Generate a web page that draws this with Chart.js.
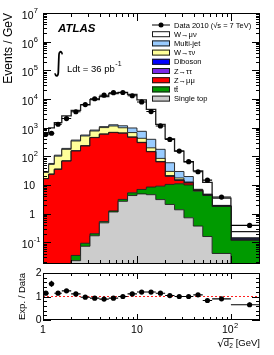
<!DOCTYPE html>
<html><head><meta charset="utf-8">
<script src="https://cdn.jsdelivr.net/npm/chart.js@4.4.1/dist/chart.umd.min.js"></script>
<style>
html,body{margin:0;padding:0;background:#fff;}
body{width:274px;height:355px;position:relative;overflow:hidden;}
canvas{position:absolute;left:0;}
</style></head><body>
<canvas id="main" width="274" height="268" style="top:0"></canvas>
<canvas id="ratio" width="274" height="87" style="top:268px"></canvas>
<script>
// ---------- data ----------
const binEdges = [1,1.15,1.32,1.585,1.995,2.512,3.162,3.981,5.012,6.31,7.943,10,12.59,15.85,19.95,25.12,31.62,39.81,50.12,63.1,100,250];
const dataValues = [590,640,1320,2080,3600,6400,10200,13600,16600,16900,13000,7900,3660,1150,390,153,65,29,14.8,3.8,0.39];
const ratioValues = [1.14,1.54,1.14,1.24,1.11,0.97,0.93,0.89,0.93,1.0,1.11,1.19,1.19,1.14,1.04,1.0,1.0,1.07,0.83,0.9,0.65];
const ratioErrors = [0.03,0.13,0.03,0.03,0.02,0.02,0.01,0.01,0.01,0.01,0.01,0.01,0.02,0.02,0.03,0.04,0.05,0.06,0.07,0.06,0.09];
const singleTop = [0.002,0.004,0.006,0.01,0.023,0.073,0.17,0.48,1.15,2.7,4.3,4.9,4.6,3.1,2.1,1.37,0.72,0.37,0.16,0.041,0.008];
const ttbar = [0.002,0.003,0.005,0.008,0.012,0.02,0.03,0.05,0.1,0.45,1.05,2.1,3.9,6.0,8.4,9.7,9.35,5.75,4.15,1.75,0.11];
const zmumu = [16.6,23.5,35,68,153,229,450,588,674,634,456,294,136,55,9.5,3.4,1.7,0.3,0.12,0.03,0.003];
const ztautau = [0.2,0.4,0.7,1.2,2.5,4,6,8,9,9,7,5,3,1.5,0.7,0.3,0.15,0.08,0.05,0.02,0.002];
const diboson = [0.05,0.08,0.12,0.2,0.3,0.45,0.6,0.75,0.9,1.0,1.0,0.95,0.85,0.7,0.55,0.4,0.3,0.2,0.12,0.05,0.01];
const wtaunu = [10.7,28.5,66,106,187,280,309,411,461,346,206,119,50,18.6,8.6,2.5,0.55,0.1,0.1,0.03,0.003];
const multijet = [2,4,8,14,27,41,61,80,116,171,302,322,195,91,30,12,7,0.3,0.1,0.03,0.01];
const wmunu = [643,930,1395,2390,3630,5656,8662,11012,14178,15736,13453,8652,3962,1135,346,123,45,24,7.6,1.54,0.09];

const yTickValues = [1e7,1e6,1e5,1e4,1e3,1e2,10,1,0.1];
const yTickLabels = ['10^7','10^6','10^5','10^4','10^3','10^2','10','1','10^-1'];
const xTickValues = [1,10,100];
const xTickLabels = ['1','10','10^2'];
const ratioTickValues = [0,1,2];
const ratioTickLabels = ['0','1','2'];

const legendLabels = ['Data 2010 (\u221As = 7 TeV)','W\u2192\u03BC\u03BD','Multi-jet','W\u2192\u03C4\u03BD','Diboson','Z\u2192\u03C4\u03C4','Z\u2192\u03BC\u03BC','tt\u0304','Single top'];

// ---------- styling ----------
const FONT = '"Liberation Sans", Arial, Helvetica, sans-serif';
const layers = [
  {name:'Single top', vals:singleTop, color:'#cccccc'},
  {name:'tt\u0304', vals:ttbar, color:'#009a00'},
  {name:'Z\u2192\u03BC\u03BC', vals:zmumu, color:'#ff0000'},
  {name:'Z\u2192\u03C4\u03C4', vals:ztautau, color:'#7a28e6'},
  {name:'Diboson', vals:diboson, color:'#0000ff'},
  {name:'W\u2192\u03C4\u03BD', vals:wtaunu, color:'#ffff99'},
  {name:'Multi-jet', vals:multijet, color:'#99ccff'},
  {name:'W\u2192\u03BC\u03BD', vals:wmunu, color:'#ffffff'}
];
const legendColors = {'W\u2192\u03BC\u03BD':'#ffffff','Multi-jet':'#99ccff','W\u2192\u03C4\u03BD':'#ffff99','Diboson':'#0000ff','Z\u2192\u03C4\u03C4':'#7a28e6','Z\u2192\u03BC\u03BC':'#ff0000','tt\u0304':'#009a00','Single top':'#cccccc'};

const nBins = dataValues.length;
const centers = [];
for (let i=0;i<nBins;i++) centers.push(Math.sqrt(binEdges[i]*binEdges[i+1]));

function stepPoints(vals){
  const pts=[];
  for(let i=0;i<vals.length;i++) pts.push({x:binEdges[i],y:vals[i]});
  pts.push({x:binEdges[vals.length],y:vals[vals.length-1]});
  return pts;
}

const stackDatasets = [];
let run = new Array(nBins).fill(0);
layers.forEach((L,i)=>{
  run = run.map((r,k)=>r+L.vals[k]);
  stackDatasets.push({
    type:'line', label:L.name, data:stepPoints(run.slice()), stepped:'before',
    backgroundColor:L.color, borderColor:'#1a1a1a', borderWidth: i===layers.length-1?1.3:0.9,
    fill: i===0?'start':'-1', pointRadius:0, tension:0, order:1
  });
});

function drawPow(ctx, label, x, y, baseSize, expSize, align, baseDy, expDy){
  const parts = label.split('^');
  const base = parts[0], exp = parts[1];
  ctx.font = baseSize+'px '+FONT;
  const bw = ctx.measureText(base).width;
  let ew = 0;
  if (exp){ ctx.font = expSize+'px '+FONT; ew = ctx.measureText(exp).width; }
  let bx = align==='right' ? x - bw : x - (bw+ew)/2;
  ctx.textAlign='left'; ctx.textBaseline='middle'; ctx.fillStyle='#000';
  ctx.font = baseSize+'px '+FONT;
  ctx.fillText(base, bx, y + baseDy);
  if (exp){ ctx.font = expSize+'px '+FONT; ctx.fillText(exp, bx+bw+0.3, y + expDy); }
}

function tickLines(ctx, ca, xs, ys, xMaj, xMin, yMaj, yMin, xML, xmL, yML, ymL){
  ctx.save();
  ctx.strokeStyle='#000'; ctx.lineWidth=1;
  ctx.beginPath();
  const X = v=>Math.round(xs.getPixelForValue(v))+0.5;
  const Y = v=>Math.round(ys.getPixelForValue(v))+0.5;
  const addX=(v,len)=>{const p=X(v); if(p<ca.left||p>ca.right) return; ctx.moveTo(p,ca.bottom); ctx.lineTo(p,ca.bottom-len); ctx.moveTo(p,ca.top); ctx.lineTo(p,ca.top+len);};
  const addY=(v,len)=>{const p=Y(v); if(p<ca.top-0.5||p>ca.bottom+0.5) return; ctx.moveTo(ca.left,p); ctx.lineTo(ca.left+len,p); ctx.moveTo(ca.right,p); ctx.lineTo(ca.right-len,p);};
  xMaj.forEach(v=>addX(v,xML)); xMin.forEach(v=>addX(v,xmL));
  yMaj.forEach(v=>addY(v,yML)); yMin.forEach(v=>addY(v,ymL));
  ctx.stroke();
  ctx.strokeRect(ca.left+0.5, ca.top+0.5, ca.right-ca.left-1, ca.bottom-ca.top-1);
  ctx.restore();
}

const xMinor = [];
[1,10,100].forEach(d=>{for(let k=2;k<=9;k++) xMinor.push(k*d);});
const yMinorLog = [];
for (let e=-2;e<=6;e++) for(let k=2;k<=9;k++) yMinorLog.push(k*Math.pow(10,e));
const ratioMinor = [0.2,0.4,0.6,0.8,1.2,1.4,1.6,1.8];

const rootPlugin = {
  id:'rootStyle',
  afterDatasetsDraw(chart, args, opts){
    const ctx=chart.ctx, xs=chart.scales.x, ys=chart.scales.y, ca=chart.chartArea;
    const vals = opts.kind==='main' ? dataValues : ratioValues;
    ctx.save();
    ctx.beginPath(); ctx.rect(ca.left,ca.top,ca.right-ca.left,ca.bottom-ca.top); ctx.clip();
    ctx.strokeStyle='#000'; ctx.lineWidth=1.1;
    ctx.beginPath();
    for(let i=0;i<vals.length;i++){
      const x0=xs.getPixelForValue(binEdges[i]), x1=xs.getPixelForValue(binEdges[i+1]);
      const xc=xs.getPixelForValue(centers[i]);
      const y=ys.getPixelForValue(vals[i]);
      ctx.moveTo(x0,y); ctx.lineTo(x1,y);
      if(opts.kind==='ratio'){
        ctx.moveTo(xc,ys.getPixelForValue(vals[i]-ratioErrors[i]));
        ctx.lineTo(xc,ys.getPixelForValue(vals[i]+ratioErrors[i]));
      }
    }
    ctx.stroke();
    ctx.restore();
  },
  afterDraw(chart, args, opts){
    const ctx=chart.ctx, xs=chart.scales.x, ys=chart.scales.y, ca=chart.chartArea;
    ctx.save();
    if(opts.kind==='main'){
      tickLines(ctx,ca,xs,ys,xTickValues,xMinor,yTickValues,yMinorLog,8,4,8,4);
      yTickValues.forEach((v,i)=>{
        const y=ys.getPixelForValue(v); const lab=yTickLabels[i];
        if(lab.indexOf('^')>=0) drawPow(ctx,lab,33.5,y,10.5,7.5,'right',3,-2);
        else drawPow(ctx,lab,35,y,10.5,7.5,'right',1.5,0);
      });
      ctx.save(); ctx.translate(9,13); ctx.rotate(-Math.PI/2);
      ctx.font='12px '+FONT; ctx.fillStyle='#000'; ctx.textAlign='right'; ctx.textBaseline='middle';
      ctx.fillText('Events / GeV',0,0); ctx.restore();
      ctx.fillStyle='#000'; ctx.textAlign='left'; ctx.textBaseline='alphabetic';
      ctx.font='italic bold 11.5px '+FONT; ctx.fillText('ATLAS',58,32);
      ctx.font='28px "DejaVu Sans"';
      const m=ctx.measureText('\u222B');
      const h=m.actualBoundingBoxAscent+m.actualBoundingBoxDescent;
      const sc=27/h;
      ctx.save(); ctx.translate(53, 50 + m.actualBoundingBoxAscent*sc); ctx.scale(sc*0.8,sc);
      ctx.fillText('\u222B',0,0); ctx.restore();
      ctx.font='9.5px '+FONT; ctx.fillText('Ldt = 36 pb',67,71.5);
      const lw=ctx.measureText('Ldt = 36 pb').width;
      ctx.font='7px '+FONT; ctx.fillText('-1',67+lw+0.5,66);
      const ly=[25,34.2,43.4,52.6,61.8,71,80.2,89.4,98.6];
      legendLabels.forEach((t,i)=>{
        const y=ly[i];
        if(i===0){
          ctx.strokeStyle='#000'; ctx.lineWidth=1; ctx.beginPath(); ctx.moveTo(152,y); ctx.lineTo(170,y); ctx.stroke();
          ctx.beginPath(); ctx.arc(161,y,2.5,0,Math.PI*2); ctx.fillStyle='#000'; ctx.fill();
        } else {
          ctx.fillStyle=legendColors[t]; ctx.fillRect(152,y-3,18,6);
          ctx.strokeStyle='#1a1a1a'; ctx.lineWidth=1; ctx.strokeRect(152.5,y-3+0.5,17,5);
        }
        ctx.fillStyle='#000'; ctx.font='7.5px '+FONT; ctx.textAlign='left'; ctx.textBaseline='middle';
        ctx.fillText(t,174,y+0.5);
      });
    } else {
      tickLines(ctx,ca,xs,ys,xTickValues,xMinor,ratioTickValues,ratioMinor,6,3,8,4);
      ratioTickValues.forEach((v,i)=>{
        drawPow(ctx,ratioTickLabels[i],41.5,ys.getPixelForValue(v),10.5,7.5,'right',0.5,0);
      });
      xTickValues.forEach((v,i)=>{
        const x=xs.getPixelForValue(v);
        drawPow(ctx,xTickLabels[i],xTickLabels[i].indexOf('^')>=0?x-1:x,62,10.5,7.5,'center',0,-4);
      });
      ctx.save(); ctx.translate(22,5); ctx.rotate(-Math.PI/2);
      ctx.font='9.5px '+FONT; ctx.fillStyle='#000'; ctx.textAlign='right'; ctx.textBaseline='middle';
      ctx.fillText('Exp. / Data',0,0); ctx.restore();
      ctx.fillStyle='#000'; ctx.textBaseline='alphabetic'; ctx.textAlign='left';
      ctx.font='9.5px '+FONT;
      const g=' [GeV]'; const gw=ctx.measureText(g).width;
      const dW=ctx.measureText('d').width;
      ctx.font='6.5px '+FONT; const sW=ctx.measureText('2').width;
      ctx.font='11px "DejaVu Sans"'; const rW=ctx.measureText('\u221A').width;
      const xEnd=260, xG=xEnd-gw, xS=xG-sW-0.3, xD=xS-dW, xR=xD-rW+0.5;
      ctx.font='9.5px '+FONT; ctx.fillText(g,xG,78); ctx.fillText('d',xD,78);
      ctx.font='6.5px '+FONT; ctx.fillText('2',xS,80);
      ctx.font='11px "DejaVu Sans"'; ctx.fillText('\u221A',xR,79);
      ctx.strokeStyle='#000'; ctx.lineWidth=0.8; ctx.beginPath(); ctx.moveTo(xD-0.5,70.5); ctx.lineTo(xG+0.5,70.5); ctx.stroke();
    }
    ctx.restore();
  }
};

const logX = {type:'logarithmic',min:1,max:204,ticks:{display:false},grid:{display:false},border:{display:false}};

new Chart(document.getElementById('main'),{
  type:'line',
  data:{datasets:[...stackDatasets,{
    type:'line', label:'Data 2010', data:centers.map((c,i)=>({x:c,y:dataValues[i]})),
    showLine:false, pointRadius:2.6, pointBackgroundColor:'#000', pointBorderColor:'#000', pointBorderWidth:0, order:0
  }]},
  options:{
    responsive:false, animation:false, events:[],
    layout:{padding:{left:0,right:14,top:13,bottom:0}},
    plugins:{legend:{display:false},tooltip:{enabled:false},rootStyle:{kind:'main'}},
    scales:{
      x:Object.assign({},logX,{afterFit:s=>{s.height=4;}}),
      y:{type:'logarithmic',min:0.0176,max:1e7,ticks:{display:false},grid:{display:false},border:{display:false},afterFit:s=>{s.width=43;}}
    }
  },
  plugins:[rootPlugin]
});

new Chart(document.getElementById('ratio'),{
  type:'line',
  data:{datasets:[
    {type:'line',label:'Data',data:centers.map((c,i)=>({x:c,y:ratioValues[i]})),showLine:false,pointRadius:2.6,pointBackgroundColor:'#000',pointBorderColor:'#000',pointBorderWidth:0,order:0},
    {type:'line',label:'unity',data:[{x:1,y:1},{x:250,y:1}],borderColor:'#ff2020',borderWidth:1,borderDash:[2,2],pointRadius:0,fill:false,order:1}
  ]},
  options:{
    responsive:false, animation:false, events:[],
    layout:{padding:{left:0,right:14,top:5,bottom:0}},
    plugins:{legend:{display:false},tooltip:{enabled:false},rootStyle:{kind:'ratio'}},
    scales:{
      x:Object.assign({},logX,{afterFit:s=>{s.height=35;}}),
      y:{type:'linear',min:0,max:2,ticks:{display:false},grid:{display:false},border:{display:false},afterFit:s=>{s.width=43;}}
    }
  },
  plugins:[rootPlugin]
});
</script></body></html>
